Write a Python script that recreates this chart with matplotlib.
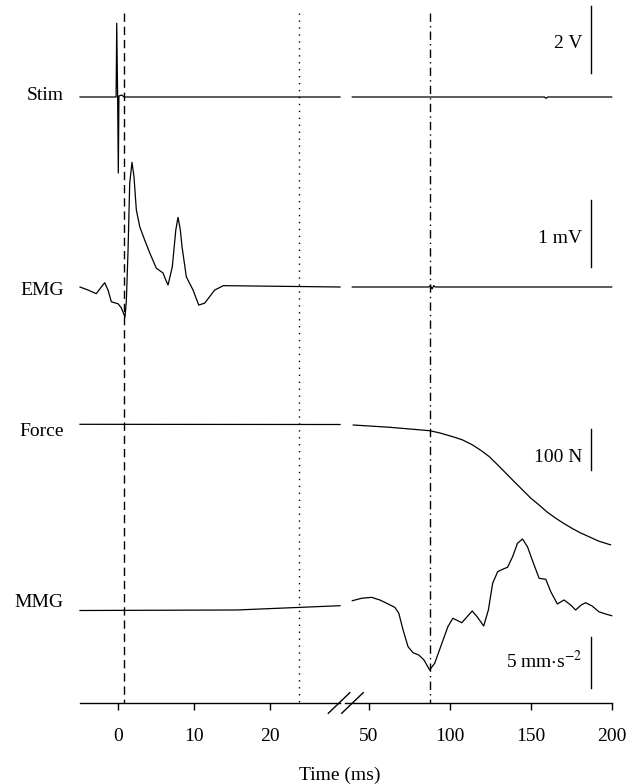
import matplotlib
matplotlib.use("Agg")
import matplotlib.pyplot as plt
from matplotlib.lines import Line2D

plt.rcParams['font.family'] = ['Liberation Serif', 'DejaVu Serif']
plt.rcParams['mathtext.fontset'] = 'stix'

# --- data (time in ms) ---
# left segment: -5 .. 29 ms
stim_t_left = [-5.0, -0.25, -0.17, -0.05, 0.04, 0.12, 0.5, 0.8, 29.2]
stim_v_left = [0.0, 0.0, 2.2, 0.0, -2.27, 0.03, 0.06, 0.0, 0.0]
stim_t_right = [39.7, 158.5, 159.5, 160.5, 200.0]
stim_v_right = [0.0, 0.0, -0.04, 0.0, 0.0]

emg_t_left = [-5.0, -3.95, -2.86, -2.2, -1.75, -1.3, -0.88, 0.0, 0.43, 0.92, 1.1, 1.32,
              1.54, 1.84, 2.1, 2.41, 2.86, 3.51, 4.17, 5.04, 5.92, 6.3, 6.58, 7.14,
              7.6, 7.89, 8.2, 8.42, 8.99, 9.87, 10.62, 11.41, 12.72, 13.86, 29.2]
emg_v_left = [0.0, -0.045, -0.10, 0.0, 0.064, -0.05, -0.22, -0.25, -0.31, -0.45, -0.2, 0.55,
              1.55, 1.86, 1.65, 1.15, 0.90, 0.70, 0.51, 0.28, 0.21, 0.10, 0.03, 0.30,
              0.85, 1.04, 0.85, 0.60, 0.15, -0.045, -0.27, -0.24, -0.045, 0.02, 0.0]
emg_t_right = [39.7, 87.0, 88.0, 89.0, 90.0, 91.0, 200.0]
emg_v_right = [0.0, 0.0, 0.02, -0.03, 0.02, 0.0, 0.0]

force_t_left = [-5.0, 29.2]
force_v_left = [0.0, -0.5]
force_t_right = [40.3, 62.9, 87.5, 93.7, 101.8, 107.8, 114.1, 119.3, 124.4, 129.3,
                 134.7, 139.8, 144.9, 150.0, 155.2, 160.1, 165.4, 170.5, 175.6,
                 180.8, 185.9, 192.0, 199.3]
force_v_right = [-1.7, -7.3, -15.6, -21, -30.2, -38, -50.5, -64, -79, -98,
                 -119.5, -140, -160, -180, -197, -214, -229, -242, -254,
                 -265, -274, -285, -294]

mmg_t_left = [-5.0, 15.6, 29.2]
mmg_v_left = [0.0, 0.05, 0.47]
mmg_t_right = [39.73, 45.51, 51.66, 56.77, 61.87, 65.99, 68.45, 71.09, 74.17, 77.24,
               80.75, 84.01, 87.52, 90.59, 94.71, 98.77, 101.85, 104.92, 107.38,
               111.07, 113.78, 116.85, 120.91, 123.80, 126.45, 129.52, 132.60,
               135.67, 138.75, 141.82, 144.90, 147.97, 151.66, 155.17, 159.29,
               162.36, 166.42, 170.54, 174.66, 177.74, 181.18, 183.89, 187.95,
               192.07, 196.19, 200.0]
mmg_v_right = [0.96, 1.20, 1.29, 1.03, 0.64, 0.31, -0.27, -1.91, -3.55, -4.14,
               -4.36, -4.85, -5.83, -5.18, -3.38, -1.59, -0.76, -1.00, -1.20,
               -0.54, -0.05, -0.61, -1.52, 0.05, 2.67, 3.80, 4.04,
               4.24, 5.27, 6.59, 7.01, 6.25, 4.63, 3.16, 3.06,
               1.84, 0.64, 1.03, 0.54, 0.05, 0.54, 0.76, 0.44,
               -0.12, -0.34, -0.51]

labels = ["Stim", "EMG", "Force", "MMG"]
scale_values = [2, 1, 100, 5]
scale_labels = ["2 V", "1 mV", "100 N", r"5 mm$\cdot$s$^{-2}$"]

# vertical layout (pixel rows from top) and gain (pixels per unit)
baselines = [97, 287, 424.3, 610.5]
gains = [33.5, 67.0, 0.41, 10.2]
label_rows = [100, 295, 436, 607]
scale_tops = [6, 200, 429, 637]
scale_label_rows = [48, 243, 461.7, 668.3]

W, H = 627, 784
fig = plt.figure(figsize=(W / 100, H / 100), dpi=100)
axis_y = 703

ax1 = fig.add_axes([80 / W, 1 - axis_y / H, (340 - 80) / W, axis_y / H])
ax2 = fig.add_axes([345 / W, 1 - axis_y / H, (612 - 345) / W, axis_y / H])
ax1.set_xlim(-5.0, 29.2)
ax2.set_xlim(35.2, 200.2)

lefts = [(stim_t_left, stim_v_left), (emg_t_left, emg_v_left),
         (force_t_left, force_v_left), (mmg_t_left, mmg_v_left)]
rights = [(stim_t_right, stim_v_right), (emg_t_right, emg_v_right),
          (force_t_right, force_v_right), (mmg_t_right, mmg_v_right)]

for i in range(4):
    b, g = baselines[i], gains[i]
    t, v = lefts[i]
    ax1.plot(t, [b - g * x for x in v], color="black", lw=0.9, clip_on=False)
    t, v = rights[i]
    ax2.plot(t, [b - g * x for x in v], color="black", lw=0.9, clip_on=False)
    fig.text(64 / W, 1 - label_rows[i] / H, labels[i], ha="right", va="baseline", fontsize=14)
    # scale bar
    top = scale_tops[i]
    bot = top + g * scale_values[i]
    ax2.plot([187, 187], [top, bot], color="black", lw=1.0)
    ax2.text(181.8, scale_label_rows[i], scale_labels[i], ha="right", va="baseline", fontsize=14)

for ax in (ax1, ax2):
    ax.set_ylim(axis_y, 0)
    ax.set_facecolor("none")
    for s in ("top", "right", "left"):
        ax.spines[s].set_visible(False)
    ax.spines["bottom"].set_linewidth(1.0)
    ax.set_yticks([])
    ax.tick_params(axis="x", direction="out", length=5, width=1.0, pad=13, labelsize=14)

ax1.set_xticks([0, 10, 20])
ax2.set_xticks([50, 100, 150, 200])

# event markers
ax1.plot([0.8, 0.8], [13, axis_y], color="black", lw=1.0, dashes=(6, 3.5))
ax1.plot([23.75, 23.75], [13, axis_y], color="black", lw=1.0, dashes=(1, 4))
ax2.plot([87.7, 87.7], [13, axis_y], color="black", lw=1.0, dashes=(6, 3, 1, 3))

# axis break marks
for x0 in (328.3, 341.7):
    fig.add_artist(Line2D([x0 / W, (x0 + 21.5) / W], [1 - 713.3 / H, 1 - 692.7 / H],
                          color="black", lw=1.0))

fig.text(340 / W, 1 - 775 / H, "Time (ms)", ha="center", va="center", fontsize=14)

fig.savefig("out.png", dpi=100)
